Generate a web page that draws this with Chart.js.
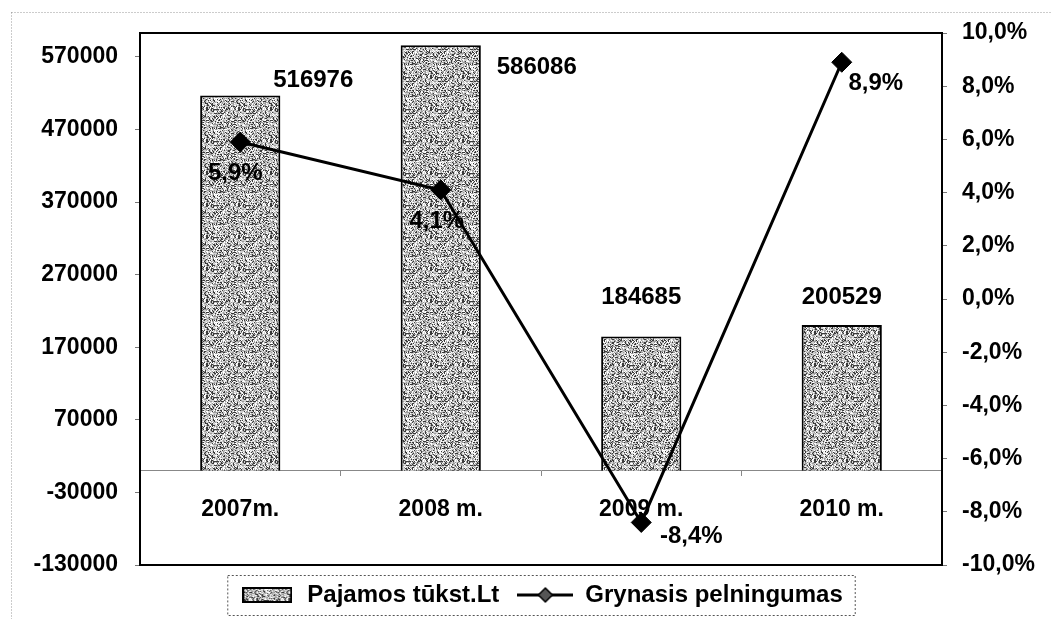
<!DOCTYPE html>
<html>
<head>
<meta charset="utf-8">
<script src="https://cdn.jsdelivr.net/npm/chart.js@4/dist/chart.umd.min.js"></script>
<style>
  html, body { margin: 0; padding: 0; background: #fff; }
  #wrap { width: 1052px; height: 619px; position: relative; }
</style>
</head>
<body>
<div id="wrap"><canvas id="chart" width="1052" height="619"></canvas></div>
<script>
// Duomenys
const years = ['2007m.', '2008 m.', '2009 m.', '2010 m.'];
const income = [516976, 586086, 184685, 200529];
const margin = [5.9, 4.1, -8.4, 8.9];
const leftTicks = [-130000, -30000, 70000, 170000, 270000, 370000, 470000, 570000];

// label offsets (px) relative to each mark
const incomeLabelOffsets = [[73, -15], [96, 22], [0, -39], [0, -28]];
const marginLabelOffsets = [[-5, 31], [-4, 31], [50, 14], [34, 21]];

const FONT = '"Liberation Sans", Arial, sans-serif';
Chart.defaults.color = '#000';
Chart.defaults.font.family = FONT;

// stippled gray fill like the original (fixed hash, no randomness)
function makeTile() {
    const n = 32;
    const c = document.createElement('canvas');
    c.width = n; c.height = n;
    const g = c.getContext('2d');
    for (let x = 0; x < n; x++) {
        for (let y = 0; y < n; y++) {
            let h = Math.imul(x, 374761393) + Math.imul(y, 668265263);
            h = Math.imul(h ^ (h >>> 13), 1274126177);
            h = (h ^ (h >>> 16)) >>> 0;
            const v = h % 100;
            g.fillStyle = v < 22 ? '#3a3a3a' : v < 45 ? '#9c9c9c' : v < 78 ? '#d2d2d2' : '#ffffff';
            g.fillRect(x, y, 1, 1);
        }
    }
    return c;
}
const tile = makeTile();
const pattern = document.getElementById('chart').getContext('2d').createPattern(tile, 'repeat');

// legend symbols
function barSwatch() {
    const c = document.createElement('canvas');
    c.width = 50; c.height = 16;
    const g = c.getContext('2d');
    g.fillStyle = g.createPattern(tile, 'repeat');
    g.fillRect(1, 1, 48, 14);
    g.strokeStyle = '#000';
    g.lineWidth = 2;
    g.strokeRect(1, 1, 48, 14);
    return c;
}
function lineSwatch() {
    const c = document.createElement('canvas');
    c.width = 56; c.height = 20;
    const g = c.getContext('2d');
    g.strokeStyle = '#000';
    g.lineWidth = 3;
    g.beginPath(); g.moveTo(0, 10); g.lineTo(56, 10); g.stroke();
    g.fillStyle = '#555';
    g.beginPath();
    g.moveTo(28, 3); g.lineTo(35, 10); g.lineTo(28, 17); g.lineTo(21, 10); g.closePath();
    g.fill();
    g.lineWidth = 1.5;
    g.stroke();
    return c;
}
const legendIcons = [barSwatch(), lineSwatch()];

const frame = {
    id: 'frame',
    beforeDraw(chart) {
        const ctx = chart.ctx;
        ctx.save();
        ctx.fillStyle = '#fff';
        ctx.fillRect(0, 0, chart.width, chart.height);
        ctx.strokeStyle = '#999';
        ctx.lineWidth = 1;
        ctx.setLineDash([1, 2]);
        ctx.strokeRect(11.5, 12.5, 1060, 700);
        ctx.restore();
    },
    beforeDatasetsDraw(chart) {
        const {ctx, chartArea: a} = chart;
        ctx.save();
        ctx.strokeStyle = '#000';
        ctx.lineWidth = 2;
        ctx.beginPath();
        ctx.moveTo(a.left, a.top); ctx.lineTo(a.right, a.top);
        ctx.moveTo(a.left, a.bottom); ctx.lineTo(a.right, a.bottom);
        ctx.stroke();
        ctx.restore();
    },
    afterDraw(chart) {
        const boxes = chart.legend.legendHitBoxes;
        if (!boxes || !boxes.length) return;
        const l = Math.min(...boxes.map(b => b.left)) - 12;
        const r = Math.max(...boxes.map(b => b.left + b.width)) + 12;
        const t = boxes[0].top - 8;
        const b = boxes[0].top + boxes[0].height + 8;
        const ctx = chart.ctx;
        ctx.save();
        ctx.strokeStyle = '#555';
        ctx.lineWidth = 1;
        ctx.setLineDash([2, 2]);
        ctx.strokeRect(l + 0.5, t + 0.5, r - l, b - t);
        ctx.restore();
    }
};

const valueLabels = {
    id: 'valueLabels',
    afterDatasetsDraw(chart) {
        const ctx = chart.ctx;
        ctx.save();
        ctx.font = 'bold 24px ' + FONT;
        ctx.fillStyle = '#000';
        ctx.textAlign = 'center';
        ctx.textBaseline = 'middle';
        chart.getDatasetMeta(0).data.forEach((el, i) => {
            const o = incomeLabelOffsets[i];
            ctx.fillText(String(income[i]), el.x + o[0], el.y + o[1]);
        });
        chart.getDatasetMeta(1).data.forEach((el, i) => {
            const o = marginLabelOffsets[i];
            ctx.fillText(margin[i].toFixed(1).replace('.', ',') + '%', el.x + o[0], el.y + o[1]);
        });
        ctx.restore();
    }
};

new Chart(document.getElementById('chart'), {
    type: 'bar',
    data: {
        labels: years,
        datasets: [
            {
                type: 'bar',
                label: 'Pajamos tūkst.Lt',
                data: income,
                yAxisID: 'y',
                backgroundColor: pattern,
                borderColor: '#000',
                borderWidth: 2,
                barPercentage: 0.4,
                categoryPercentage: 1,
                order: 1
            },
            {
                type: 'line',
                label: 'Grynasis pelningumas',
                data: margin,
                yAxisID: 'y1',
                borderColor: '#000',
                borderWidth: 3,
                pointStyle: 'rectRot',
                pointRadius: 10,
                pointBackgroundColor: '#000',
                pointBorderColor: '#000',
                pointBorderWidth: 1,
                tension: 0,
                order: 0
            }
        ]
    },
    options: {
        responsive: false,
        animation: false,
        layout: { padding: { left: 0, right: 0, top: 33, bottom: 2 } },
        plugins: {
            tooltip: { enabled: false },
            legend: {
                position: 'bottom',
                fullSize: false,
                labels: {
                    usePointStyle: true,
                    pointStyleWidth: 56,
                    padding: 18,
                    color: '#000',
                    font: { size: 24, weight: 'bold' },
                    sort: (a, b) => a.datasetIndex - b.datasetIndex,
                    generateLabels(chart) {
                        const items = Chart.defaults.plugins.legend.labels.generateLabels(chart);
                        items.forEach(it => { it.pointStyle = legendIcons[it.datasetIndex]; });
                        return items;
                    }
                }
            }
        },
        scales: {
            x: {
                position: { y: 0 },
                offset: true,
                grid: { drawOnChartArea: false, drawTicks: true, tickLength: 5, color: '#888', offset: true },
                border: { display: true, color: '#888', width: 1, dash: [3, 2] },
                ticks: { padding: 20, font: { size: 23, weight: 'bold' }, color: '#000' }
            },
            y: {
                position: 'left',
                min: -130000,
                max: 603000,
                afterBuildTicks: s => { s.ticks = leftTicks.map(v => ({ value: v })); },
                afterFit: s => { s.width = 140; },
                grid: { drawOnChartArea: false, drawTicks: true, tickLength: 5, color: '#777' },
                border: { display: true, color: '#000', width: 2 },
                ticks: {
                    padding: 17,
                    font: { size: 23, weight: 'bold' },
                    color: '#000',
                    callback: v => String(v)
                }
            },
            y1: {
                position: 'right',
                min: -10,
                max: 10,
                afterFit: s => { s.width = 110; },
                grid: { drawOnChartArea: false, drawTicks: true, tickLength: 5, color: '#777' },
                border: { display: true, color: '#000', width: 2 },
                ticks: {
                    stepSize: 2,
                    padding: 15,
                    font: { size: 23, weight: 'bold' },
                    color: '#000',
                    callback: v => v.toFixed(1).replace('.', ',') + '%'
                }
            }
        }
    },
    plugins: [frame, valueLabels]
});
</script>
</body>
</html>
